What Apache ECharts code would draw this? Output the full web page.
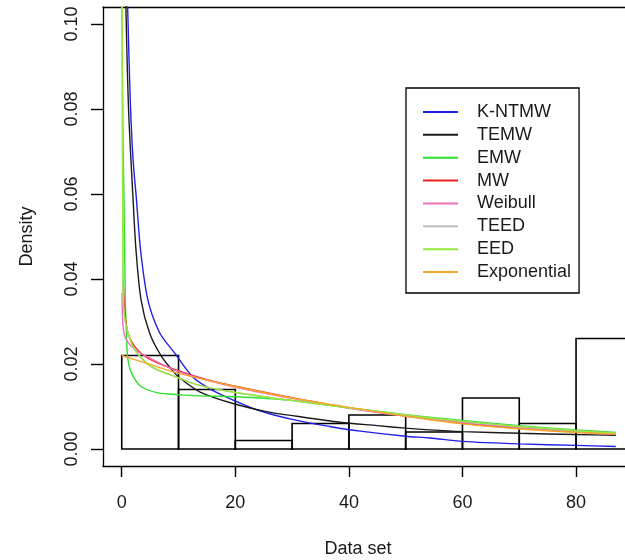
<!DOCTYPE html>
<html>
<head>
<meta charset="utf-8">
<script src="https://cdn.jsdelivr.net/npm/echarts@6/dist/echarts.min.js"></script>
<style>
html,body{margin:0;padding:0;background:#fff;}
#chart{width:625px;height:560px;}
</style>
</head>
<body>
<div id="chart"></div>
<script>
// ---- data ----
const binEdges = [0, 10, 20, 30, 40, 50, 60, 70, 80, 90];
const densities = [0.022, 0.014, 0.002, 0.006, 0.008, 0.004, 0.012, 0.006, 0.026];
const xTicks = [0, 20, 40, 60, 80];
const yTicks = [0, 0.02, 0.04, 0.06, 0.08, 0.10];

const seriesNames = ['K-NTMW', 'TEMW', 'EMW', 'MW', 'Weibull', 'TEED', 'EED', 'Exponential'];
const seriesColors = ['#1f1fe8', '#1a1a1a', '#2ee02e', '#ee2020', '#f070b8', '#bdbdbd', '#95e83a', '#f5a82a'];

const kntmw = [[1.0,0.106],[1.5,0.082],[2.0,0.068],[2.6,0.0586],[3.3,0.047],[4.6,0.0351],[6.7,0.0273],[9.3,0.0226],[12.6,0.0168],[16,0.0138],[20,0.0113],[24.3,0.0090],[30.2,0.0069],[36.6,0.0053],[42,0.0042],[50,0.0030],[54.2,0.0026],[60,0.0018],[70,0.0012],[80,0.00085],[87,0.0006]];
const temw = [[0.7,0.106],[1.2,0.080],[2.0,0.0586],[2.5,0.047],[3.4,0.0351],[4.9,0.0273],[7.0,0.0218],[9.3,0.0179],[10.2,0.0167],[13.8,0.0134],[19.6,0.0107],[25.5,0.0088],[30.8,0.0077],[38.4,0.0063],[45,0.0055],[50,0.0049],[54.2,0.0045],[60,0.0041],[70,0.0037],[80,0.0034],[87,0.0032]];
const emw = [[0.05,0.106],[0.2,0.075],[0.4,0.0586],[0.63,0.0351],[0.93,0.0234],[1.1,0.021],[1.7,0.0179],[3.4,0.0147],[6.4,0.0132],[9.9,0.0128],[13.8,0.0125],[20,0.0123],[29.6,0.0115],[36.6,0.0103],[43,0.0092],[50,0.0081],[60,0.0067],[70,0.0055],[80,0.0045],[87,0.0039]];
const mw = [[0.25,0.040],[0.5,0.0328],[1.1,0.0273],[2.3,0.0241],[4.6,0.0214],[9.3,0.0187],[15,0.0163],[20,0.0148],[30,0.0121],[40,0.0097],[50,0.0078],[60,0.0061],[70,0.0049],[80,0.0040],[87,0.0035]];
const weibull = [[0.05,0.0367],[0.23,0.0288],[0.8,0.0257],[2.3,0.0234],[4.6,0.0216],[10,0.0182],[20,0.0145],[30,0.0119],[40,0.0096],[50,0.0077],[60,0.0062],[70,0.0050],[80,0.0041],[87,0.0036]];
const teed = [[0.08,0.106],[0.16,0.060],[0.25,0.036],[0.5,0.031],[1.1,0.0272],[2.3,0.0233],[5.2,0.0194],[9.3,0.0171],[13.4,0.0151],[20,0.0133],[30,0.0114],[40,0.0097],[50,0.0080],[60,0.0065],[70,0.0053],[80,0.0043],[87,0.0037]];
const eed = [[0.08,0.106],[0.16,0.060],[0.25,0.036],[0.5,0.031],[1.1,0.0273],[2.3,0.0234],[5.2,0.0194],[9.3,0.0171],[13.4,0.0151],[20,0.0133],[30,0.0114],[40,0.0097],[50,0.0080],[60,0.0065],[70,0.0053],[80,0.0043],[87,0.0037]];
const exponential = [[0,0.022],[5,0.0199],[10,0.0178],[20,0.0147],[30,0.0120],[40,0.0098],[50,0.0077],[60,0.0059],[70,0.0047],[80,0.0039],[87,0.0035]];

const curves = [kntmw, temw, emw, mw, weibull, teed, eed, exponential];

// ---- chart ----
const FONT = '"Liberation Sans", Arial, Helvetica, sans-serif';
const TXT = '#1a1a1a';
const FRAME = {color: '#000', width: 1.3};
const TICK = {color: '#000', width: 1.4};
const chart = echarts.init(document.getElementById('chart'), null, {renderer: 'canvas'});

const histData = densities.map((d, i) => [binEdges[i], binEdges[i + 1], d]);

const lineSeries = curves.map((pts, i) => ({
  name: seriesNames[i],
  type: 'line',
  data: pts,
  showSymbol: false,
  symbol: 'none',
  smooth: 0.3,
  clip: true,
  color: seriesColors[i],
  lineStyle: {color: seriesColors[i], width: 1.4},
  z: 3 + i,
  animation: false
}));

chart.setOption({
  animation: false,
  backgroundColor: '#fff',
  textStyle: {fontFamily: FONT},
  grid: {left: 103, top: 7, width: 523, height: 459, show: false},
  xAxis: [{
    type: 'value', min: -3.3, max: 88.62, position: 'bottom',
    axisLine: {show: true, onZero: false, lineStyle: FRAME},
    splitLine: {show: false},
    axisTick: {show: true, inside: false, customValues: xTicks, length: 11, lineStyle: TICK},
    axisLabel: {show: true, customValues: xTicks, margin: 28, fontSize: 18, color: TXT, fontFamily: FONT}
  }, {
    type: 'value', min: -3.3, max: 88.62, position: 'top',
    axisLine: {show: true, onZero: false, lineStyle: FRAME},
    splitLine: {show: false}, axisTick: {show: false}, axisLabel: {show: false}
  }],
  yAxis: {
    type: 'value', min: -0.004, max: 0.104, position: 'left',
    name: 'Density', nameLocation: 'middle', nameGap: 67, nameRotate: 90,
    nameTextStyle: {fontSize: 18, color: TXT, fontFamily: FONT},
    axisLine: {show: true, onZero: false, lineStyle: FRAME},
    splitLine: {show: false},
    axisTick: {show: true, inside: false, customValues: yTicks, length: 12, lineStyle: TICK},
    axisLabel: {show: true, customValues: yTicks, rotate: 90, margin: 22, fontSize: 18, color: TXT, fontFamily: FONT,
      formatter: v => Number(v).toFixed(2)}
  },
  legend: {
    orient: 'vertical',
    left: 406, top: 88,
    data: seriesNames,
    icon: 'rect',
    itemWidth: 35, itemHeight: 2,
    itemGap: 4.86,
    padding: [15, 8, 12, 17],
    borderColor: '#000', borderWidth: 1.3,
    backgroundColor: '#fff',
    selectedMode: false,
    textStyle: {fontSize: 18, color: TXT, fontFamily: FONT, lineHeight: 18, padding: [0, 0, 0, 14]},
    z: 20
  },
  graphic: [{
    type: 'text', x: 358, y: 549,
    style: {text: 'Data set', align: 'center', verticalAlign: 'middle', font: '18px ' + FONT, fill: TXT}
  }],
  series: [{
    type: 'custom',
    name: 'hist',
    data: histData,
    encode: {x: [0, 1], y: 2},
    z: 2,
    clip: false,
    renderItem: function (params, api) {
      const x0 = api.value(0), x1 = api.value(1), h = api.value(2);
      const p0 = api.coord([x0, 0]);
      const p1 = api.coord([x1, h]);
      return {
        type: 'rect',
        shape: {x: p0[0], y: p1[1], width: p1[0] - p0[0], height: p0[1] - p1[1]},
        style: {fill: 'none', stroke: '#000', lineWidth: 1.6}
      };
    }
  }].concat(lineSeries)
});
</script>
</body>
</html>
